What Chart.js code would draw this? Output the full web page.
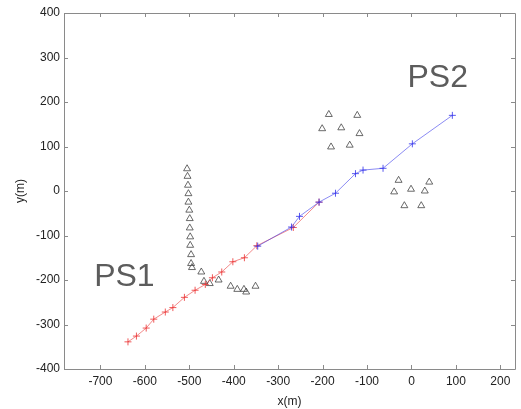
<!DOCTYPE html>
<html lang="en">
<head>
  <meta charset="UTF-8" />
  <title>PS1 / PS2 positions</title>
  <script src="https://cdn.jsdelivr.net/npm/chart.js"></script>
  <style>
    html, body { margin: 0; padding: 0; background: #fff; }
    #wrap { width: 521px; height: 409px; }
  </style>
</head>
<body>
  <div id="wrap"><canvas id="posChart" width="521" height="409"></canvas></div>

  <script>
    // PS1 track (red)
    const ps1X = [-638, -619, -597, -580, -554, -537, -511, -487, -464, -448, -427, -402, -376, -348, -266, -208];
    const ps1Y = [-339, -326, -308, -288, -272, -262, -239, -223, -210, -195, -182, -159, -150, -123, -82, -25];

    // PS2 track (blue)
    const ps2X = [-346, -270, -252, -208, -171, -126, -109, -64, 2, 92];
    const ps2Y = [-124, -81, -57, -25, -5, 39, 47, 51, 106, 170];

    // triangle markers (stations)
    const triX = [-505, -504, -503, -502, -502, -500, -499, -499, -498, -498, -496, -496, -494,
                  -473, -467, -454, -434, -407, -392, -377, -372, -351,
                  -186, -122, -201, -158, -117, -181, -139,
                  -29, 40, -39, -1, 30, -16, 22];
    const triY = [50, 33, 13, -6, -25, -43, -62, -83, -103, -122, -143, -163, -172,
                  -182, -203, -208, -200, -214, -221, -221, -227, -214,
                  172, 170, 140, 142, 129, 99, 103,
                  24, 20, -2, 4, 0, -33, -33];

    // text labels
    const labelText = ['PS1', 'PS2'];
    const labelX = [-646, 59];
    const labelY = [-194, 253];

    const xTicks = [-700, -600, -500, -400, -300, -200, -100, 0, 100, 200];
    const yTicks = [-400, -300, -200, -100, 0, 100, 200, 300, 400];

    const pts = (xs, ys) => xs.map((x, i) => ({ x, y: ys[i] }));

    const FONT = "'Liberation Sans', Arial, Helvetica, sans-serif";

    // box around the plot plus inward tick marks on all four sides
    const boxTicks = {
      id: 'boxTicks',
      afterDatasetsDraw(chart) {
        const { ctx, chartArea: a, scales } = chart;
        ctx.save();
        ctx.strokeStyle = '#8a8a8a';
        ctx.lineWidth = 1;
        ctx.beginPath();
        ctx.rect(Math.round(a.left) + 0.5, Math.round(a.top) + 0.5,
                 Math.round(a.right - a.left), Math.round(a.bottom - a.top));
        ctx.stroke();
        const len = 4;
        ctx.beginPath();
        xTicks.forEach(v => {
          const px = Math.round(scales.x.getPixelForValue(v)) + 0.5;
          ctx.moveTo(px, a.bottom); ctx.lineTo(px, a.bottom - len);
          ctx.moveTo(px, a.top); ctx.lineTo(px, a.top + len);
        });
        yTicks.forEach(v => {
          const py = Math.round(scales.y.getPixelForValue(v)) + 0.5;
          ctx.moveTo(a.left, py); ctx.lineTo(a.left + len, py);
          ctx.moveTo(a.right, py); ctx.lineTo(a.right - len, py);
        });
        ctx.stroke();

        // PS1 / PS2 text
        ctx.fillStyle = '#5c5c5c';
        ctx.font = '32px ' + FONT;
        ctx.textAlign = 'center';
        ctx.textBaseline = 'middle';
        labelText.forEach((t, i) => {
          ctx.fillText(t, scales.x.getPixelForValue(labelX[i]), scales.y.getPixelForValue(labelY[i]));
        });
        ctx.restore();
      }
    };

    new Chart(document.getElementById('posChart'), {
      type: 'scatter',
      data: {
        datasets: [
          {
            label: 'stations',
            data: pts(triX, triY),
            pointStyle: 'triangle',
            pointRadius: 4,
            borderColor: '#444',
            backgroundColor: 'rgba(0,0,0,0)',
            borderWidth: 0.8,
            showLine: false,
            order: 3
          },
          {
            label: 'PS1',
            data: pts(ps1X, ps1Y),
            showLine: true,
            borderColor: 'rgba(235,60,60,0.75)',
            borderWidth: 0.8,
            pointStyle: 'cross',
            pointRadius: 3.5,
            pointBorderColor: 'rgba(235,50,50,0.9)',
            pointBorderWidth: 0.9,
            tension: 0,
            order: 2
          },
          {
            label: 'PS2',
            data: pts(ps2X, ps2Y),
            showLine: true,
            borderColor: 'rgba(60,60,235,0.75)',
            borderWidth: 0.8,
            pointStyle: 'cross',
            pointRadius: 3.5,
            pointBorderColor: 'rgba(50,50,235,0.9)',
            pointBorderWidth: 0.9,
            tension: 0,
            order: 1
          }
        ]
      },
      options: {
        responsive: false,
        animation: false,
        events: [],
        layout: { padding: { left: 0, right: 6, top: 13, bottom: 0 } },
        plugins: { legend: { display: false }, tooltip: { enabled: false } },
        scales: {
          x: {
            type: 'linear',
            min: -782,
            max: 233,
            border: { display: false },
            grid: { display: false, drawTicks: false },
            afterFit: s => { s.height = 40; },
            afterBuildTicks: s => { s.ticks = xTicks.map(v => ({ value: v })); },
            ticks: { color: '#222', padding: 5, font: { family: FONT, size: 12 }, maxRotation: 0 },
            title: { display: true, text: 'x(m)', color: '#222', padding: { top: 4, bottom: 0 }, font: { family: FONT, size: 12 } }
          },
          y: {
            type: 'linear',
            min: -400,
            max: 400,
            border: { display: false },
            grid: { display: false, drawTicks: false },
            afterFit: s => { s.width = 64; },
            afterBuildTicks: s => { s.ticks = yTicks.map(v => ({ value: v })); },
            ticks: { color: '#222', padding: 4, font: { family: FONT, size: 12 } },
            title: { display: true, text: 'y(m)', color: '#222', padding: { top: 13, bottom: 0 }, font: { family: FONT, size: 12 } }
          }
        }
      },
      plugins: [boxTicks]
    });
  </script>
</body>
</html>
